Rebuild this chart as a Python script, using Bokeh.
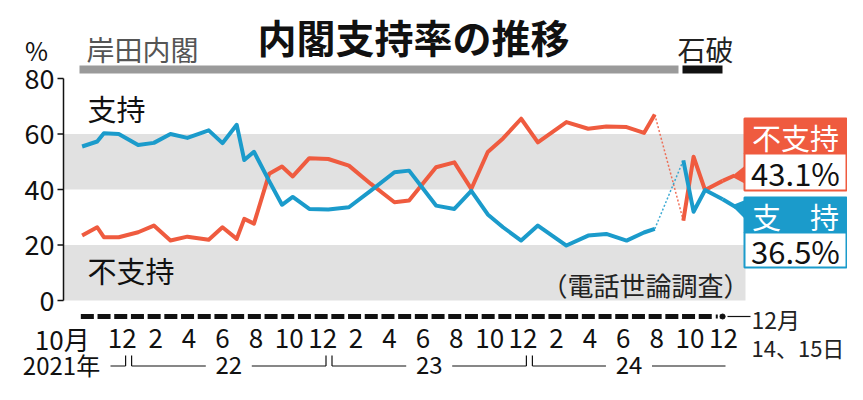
import calendar
from bokeh.plotting import figure
from bokeh.models import Range1d
from bokeh.core.properties import value
from bokeh.embed import file_html
from bokeh.resources import INLINE

# ---------------- data ----------------
poll_dates = [
    "2021-10-04", "2021-11-01", "2021-11-13", "2021-12-10", "2022-01-15",
    "2022-02-12", "2022-03-13", "2022-04-13", "2022-05-22", "2022-06-16",
    "2022-07-12", "2022-07-26", "2022-08-13", "2022-09-10", "2022-10-03",
    "2022-10-23", "2022-11-22", "2022-12-27", "2023-02-03", "2023-03-13",
    "2023-04-25", "2023-05-22", "2023-07-10", "2023-08-13", "2023-09-13",
    "2023-10-13", "2023-11-10", "2023-12-13", "2024-01-13", "2024-03-04",
    "2024-04-13", "2024-05-16", "2024-06-22", "2024-07-24", "2024-08-13",
    "2024-10-04", "2024-10-23", "2024-11-13", "2024-12-15",
]
support = [
    55.5, 57.3, 60.3, 60.0, 56.0, 56.8, 60.0, 58.6, 61.3, 56.7,
    63.3, 50.6, 53.6, 43.0, 34.5, 37.3, 33.0, 32.8, 33.6, 39.6,
    46.2, 46.8, 34.2, 33.0, 39.5, 31.0, 26.4, 21.6, 27.0, 19.8,
    23.4, 24.0, 21.6, 24.5, 25.8, 50.5, 32.0, 39.8, 36.5,
]
disapproval = [
    23.4, 26.4, 22.8, 22.8, 24.6, 27.0, 21.6, 23.0, 21.9, 26.4,
    22.2, 29.4, 27.7, 45.7, 48.3, 44.7, 51.3, 51.0, 48.6, 42.0,
    35.4, 36.0, 48.0, 49.8, 40.2, 53.5, 58.4, 65.5, 57.0, 64.3,
    61.9, 62.7, 62.5, 60.4, 67.0, 28.8, 51.8, 39.8, 43.1,
]
n_kishida = 35  # polls under the Kishida cabinet

y_ticks = [0, 20, 40, 60, 80]
y_bands = [(0, 20), (40, 60)]
month_ticks = list(range(0, 39, 2))  # months counted from Oct 2021
month_labels = ["10月", "12", "2", "4", "6", "8", "10", "12", "2", "4",
                "6", "8", "10", "12", "2", "4", "6", "8", "10", "12"]
year_labels = ["2021年", "22", "23", "24"]
year_start_months = [3, 15, 27]  # Jan 2022, Jan 2023, Jan 2024
n_months = 38  # full months drawn as dashes (Oct 2021 - Nov 2024)

RED = "#ef5b3f"
BLUE = "#1b9bcb"
FONT = value("Noto Sans CJK JP")


def month_index(s):
    y, m, d = map(int, s.split("-"))
    return (y - 2021) * 12 + (m - 10) + (d - 1) / calendar.monthrange(y, m)[1]


xs = [month_index(d) for d in poll_dates]

# ---------------- layout helpers (canvas pixels -> data) ----------------
W, H = 847, 384
PXM, X0 = 16.7, 80.0      # px per month, canvas px of month 0
PXP, Y0 = 2.775, 300.0    # px per percent, canvas px of 0%


def X(px):
    return (px - X0) / PXM


def Y(py):
    return (Y0 - py) / PXP


p = figure(width=W, height=H, output_backend="svg", toolbar_location=None,
           x_axis_type=None, y_axis_type=None,
           x_range=Range1d(X(0), X(W)), y_range=Range1d(Y(H), Y(0)),
           min_border=0, min_border_left=0, min_border_right=0,
           min_border_top=0, min_border_bottom=0)
p.outline_line_color = None
p.background_fill_color = "white"
p.border_fill_color = "white"
p.xgrid.visible = False
p.ygrid.visible = False


def txt(x, y, s, size, color="#111111", align="left", style="normal", base="middle"):
    p.text(x=[x], y=[y], text=[s], text_font=FONT, text_font_size=size,
           text_color=color, text_align=align, text_baseline=base,
           text_font_style=style)


# gray bands
for lo, hi in y_bands:
    p.quad(left=X(63), right=X(745), bottom=lo, top=hi,
           fill_color="#e1e1e1", line_color=None)

# y axis
p.segment(x0=[X(63)], y0=[0], x1=[X(63)], y1=[80], line_color="#111111", line_width=1.5)
p.segment(x0=[X(57)] * len(y_ticks), y0=y_ticks, x1=[X(63)] * len(y_ticks), y1=y_ticks,
          line_color="#111111", line_width=1.5)
p.text(x=[X(54)] * len(y_ticks), y=y_ticks, text=[str(t) for t in y_ticks],
       text_font=FONT, text_font_size="27px", text_color="#111111",
       text_align="right", text_baseline="middle")
txt(X(36), Y(49), "%", "25px", align="center")

# title & cabinet bars
txt(X(413), Y(35), "内閣支持率の推移", "39px", style="bold", align="center")
txt(X(86), Y(48), "岸田内閣", "28px", color="#555555")
txt(X(705), Y(48), "石破", "28px", color="#222222", align="center")
p.quad(left=X(79), right=X(678), top=Y(65), bottom=Y(73), fill_color="#9a9a9a", line_color=None)
p.quad(left=X(682), right=X(722), top=Y(65), bottom=Y(73), fill_color="#111111", line_color=None)

# series labels
txt(X(87), Y(107), "支持", "29px")
txt(X(87), Y(269), "不支持", "29px")
txt(X(645), Y(284), "（電話世論調査）", "26px", color="#222222", align="center")

# data lines
k = n_kishida
for vals, col in ((disapproval, RED), (support, BLUE)):
    p.line(xs[:k], vals[:k], line_color=col, line_width=4, line_join="round")
    p.line(xs[k - 1:k + 1], vals[k - 1:k + 1], line_color=col, line_width=1.5,
           line_dash="2 2", line_alpha=0.85)
    p.line(xs[k:], vals[k:], line_color=col, line_width=4, line_join="round")

# leaders and callout boxes
p.line([xs[-1], X(734)], [disapproval[-1], Y(175)], line_color=RED, line_width=4)
p.patch([X(731), X(746), X(746)], [Y(176), Y(164), Y(184)], fill_color=RED, line_color=None)
p.line([xs[-1], X(736)], [support[-1], Y(207)], line_color=BLUE, line_width=4)
p.patch([X(731), X(746), X(746)], [Y(205), Y(199), Y(220)], fill_color=BLUE, line_color=None)

BL, BR = 744, 846
p.quad(left=X(BL), right=X(BR), top=Y(118), bottom=Y(153), fill_color=RED, line_color=RED, line_width=2)
p.quad(left=X(BL), right=X(BR), top=Y(153), bottom=Y(190), fill_color="white", line_color=RED, line_width=2)
p.quad(left=X(BL), right=X(BR), top=Y(197), bottom=Y(232), fill_color=BLUE, line_color=BLUE, line_width=2)
p.quad(left=X(BL), right=X(BR), top=Y(232), bottom=Y(267), fill_color="white", line_color=BLUE, line_width=2)
txt(X(795), Y(136), "不支持", "29px", color="white", align="center")
txt(X(795), Y(172), f"{disapproval[-1]}%", "31px", align="center")
txt(X(795), Y(215), "支　持", "29px", color="white", align="center")
txt(X(795), Y(250), f"{support[-1]}%", "31px", align="center")

# month dashes under the chart
yd = Y(316)
p.segment(x0=[m + 0.02 for m in range(n_months)], y0=[yd] * n_months,
          x1=[m + 0.80 for m in range(n_months)], y1=[yd] * n_months,
          line_color="#111111", line_width=5)
p.line([n_months + 0.04, n_months + 0.40], [yd, yd], line_color="#111111",
       line_width=4, line_dash="2 2")
p.scatter([xs[-1]], [yd], size=5, color="#111111")
p.segment(x0=[X(727)], y0=[yd], x1=[X(750)], y1=[yd], line_color="#111111", line_width=1.2)
txt(X(751), Y(318), "12月", "23px", color="#222222")
txt(X(751), Y(346), "14、15日", "22px", color="#222222")

# month labels
ym = Y(338)
for m, lab in zip(month_ticks, month_labels):
    if lab.endswith("月"):
        txt(m + 0.55, ym, lab, "26px", align="right")
    else:
        txt(m + 0.5, ym, lab, "26px", align="center")

# year row with brackets
yc = 364
yy, yt = Y(yc + 1.5), Y(yc - 9)
bnd = [X(X0 + m * PXM - 2) for m in year_start_months]
g = 3 / PXM
end24 = X(725)
half = 23 / PXM
txt(X(61), Y(yc), year_labels[0], "24px", align="center")
segs = [(X(110), yy, bnd[0] - g, yy), (bnd[0] - g, yy, bnd[0] - g, yt)]
spans = [(bnd[0] + g, bnd[1] - g), (bnd[1] + g, bnd[2] - g), (bnd[2] + g, end24)]
for i, (a, b) in enumerate(spans):
    c = (a + b) / 2
    txt(c, Y(yc), year_labels[i + 1], "24px", align="center")
    segs += [(a, yy, c - half, yy), (c + half, yy, b, yy), (a, yy, a, yt)]
    if i < 2:
        segs.append((b, yy, b, yt))
p.segment(x0=[s[0] for s in segs], y0=[s[1] for s in segs],
          x1=[s[2] for s in segs], y1=[s[3] for s in segs],
          line_color="#111111", line_width=1.2)

open("out.html", "w").write(file_html(p, INLINE))
